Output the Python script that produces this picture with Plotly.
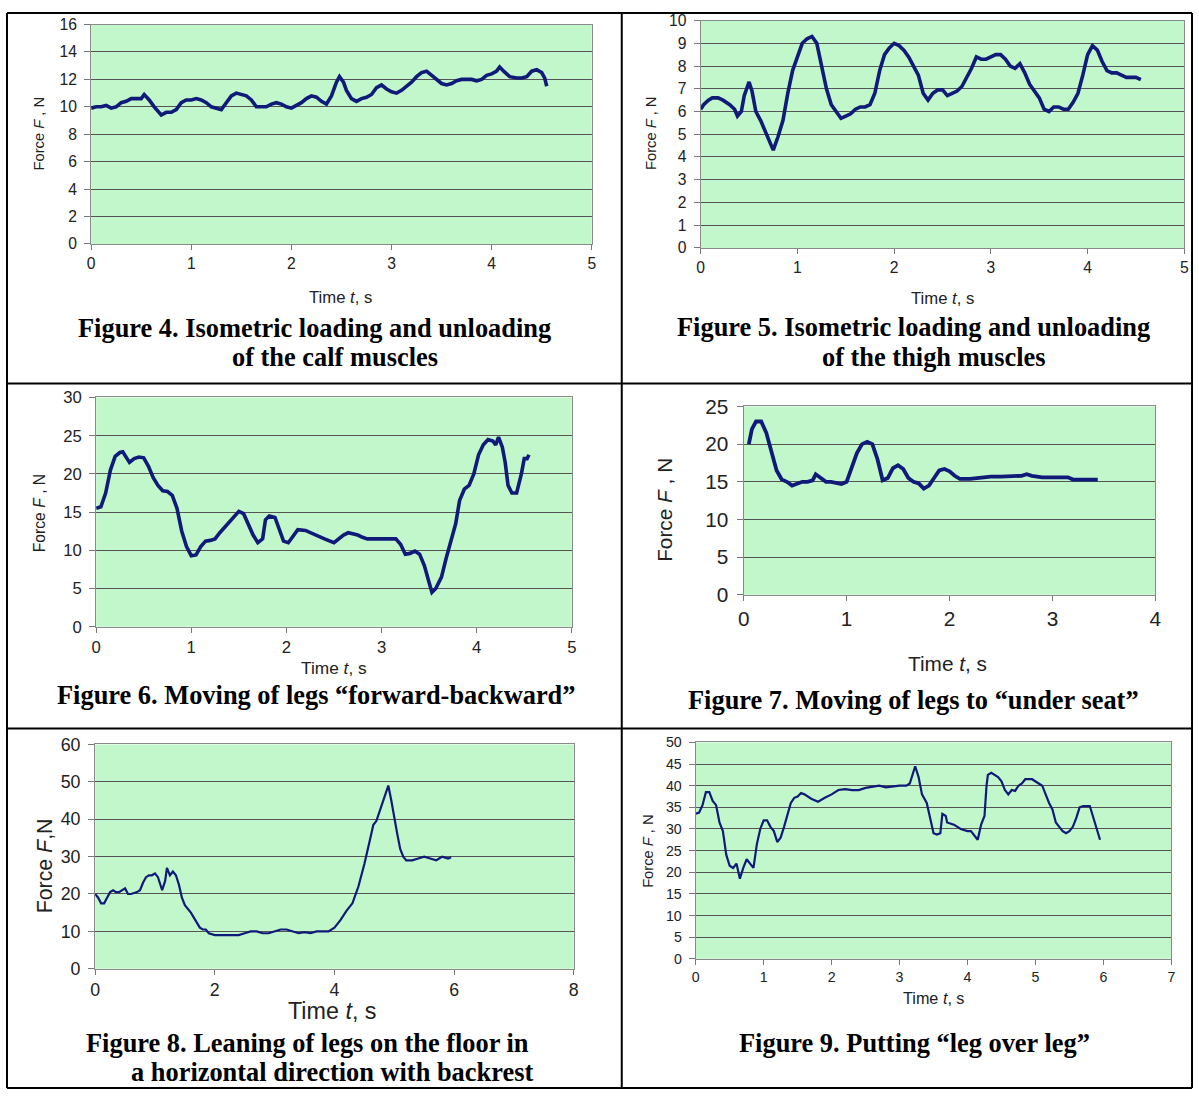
import plotly.graph_objects as go

W, H = 1199, 1100

# --- data (time in s, force in N) ---
t4 = [0, 0.05, 0.1, 0.15, 0.2, 0.25, 0.3, 0.35, 0.4, 0.45, 0.5, 0.53, 0.58, 0.63, 0.7, 0.75, 0.8, 0.85,
      0.9, 0.95, 1.0, 1.05, 1.1, 1.15, 1.2, 1.25, 1.3, 1.35, 1.4, 1.45, 1.5, 1.55, 1.6, 1.65, 1.7, 1.75,
      1.8, 1.85, 1.9, 1.95, 2.0, 2.05, 2.1, 2.15, 2.2, 2.25, 2.3, 2.35, 2.4, 2.45, 2.48, 2.52, 2.55, 2.6,
      2.65, 2.7, 2.75, 2.8, 2.85, 2.9, 2.95, 3.0, 3.05, 3.1, 3.15, 3.2, 3.25, 3.3, 3.35, 3.4, 3.45, 3.5,
      3.55, 3.6, 3.65, 3.7, 3.75, 3.8, 3.85, 3.9, 3.95, 4.0, 4.05, 4.08, 4.12, 4.18, 4.25, 4.3, 4.35, 4.4,
      4.45, 4.5, 4.53, 4.55]
f4 = [9.9, 10.0, 10.0, 10.1, 9.9, 10.0, 10.3, 10.4, 10.6, 10.6, 10.6, 10.9, 10.5, 10.0, 9.4, 9.6, 9.6, 9.8,
      10.3, 10.5, 10.5, 10.6, 10.5, 10.3, 10.0, 9.9, 9.8, 10.3, 10.8, 11.0, 10.9, 10.8, 10.5, 10.0, 10.0, 10.0,
      10.2, 10.3, 10.2, 10.0, 9.9, 10.1, 10.3, 10.6, 10.8, 10.7, 10.4, 10.2, 10.8, 11.8, 12.2, 11.8, 11.2, 10.6,
      10.4, 10.6, 10.7, 10.9, 11.4, 11.6, 11.3, 11.1, 11.0, 11.2, 11.5, 11.8, 12.2, 12.5, 12.6, 12.3, 12.0, 11.7,
      11.6, 11.7, 11.9, 12.0, 12.0, 12.0, 11.9, 12.0, 12.3, 12.4, 12.6, 12.9, 12.6, 12.2, 12.1, 12.1, 12.2, 12.6,
      12.7, 12.5, 12.1, 11.5]

t5 = [0, 0.03, 0.08, 0.12, 0.18, 0.23, 0.3, 0.35, 0.38, 0.42, 0.45, 0.48, 0.5, 0.53, 0.57, 0.62, 0.67, 0.72,
      0.75, 0.8, 0.85, 0.9, 0.95, 1.0, 1.05, 1.1, 1.15, 1.2, 1.25, 1.3, 1.35, 1.4, 1.45, 1.5, 1.55, 1.6, 1.65,
      1.7, 1.75, 1.8, 1.85, 1.9, 1.95, 2.0, 2.05, 2.1, 2.15, 2.2, 2.25, 2.3, 2.35, 2.4, 2.45, 2.5, 2.55, 2.6,
      2.65, 2.7, 2.75, 2.8, 2.85, 2.9, 2.95, 3.0, 3.05, 3.1, 3.15, 3.2, 3.25, 3.3, 3.35, 3.4, 3.45, 3.5, 3.55,
      3.6, 3.65, 3.7, 3.75, 3.8, 3.85, 3.9, 3.95, 4.0, 4.05, 4.1, 4.15, 4.2, 4.25, 4.3, 4.35, 4.4, 4.45, 4.5, 4.55]
f5 = [6.1, 6.3, 6.5, 6.6, 6.6, 6.5, 6.3, 6.1, 5.8, 6.0, 6.7, 7.0, 7.3, 6.9, 6.0, 5.6, 5.1, 4.5,
      4.3, 4.9, 5.6, 6.8, 7.8, 8.4, 9.0, 9.2, 9.3, 9.0, 8.0, 7.0, 6.3, 6.0, 5.7, 5.8, 5.9, 6.1, 6.2,
      6.2, 6.3, 6.8, 7.8, 8.5, 8.8, 9.0, 8.9, 8.7, 8.4, 8.0, 7.6, 6.8, 6.5, 6.8, 6.95, 6.95, 6.7, 6.8,
      6.9, 7.1, 7.5, 7.9, 8.4, 8.3, 8.3, 8.4, 8.5, 8.5, 8.3, 8.0, 7.9, 8.1, 7.7, 7.2, 6.9, 6.6, 6.1,
      6.0, 6.2, 6.2, 6.1, 6.1, 6.4, 6.8, 7.6, 8.5, 8.9, 8.7, 8.2, 7.8, 7.7, 7.7, 7.6, 7.5, 7.5, 7.5, 7.4]

t6 = [0, 0.05, 0.1, 0.15, 0.2, 0.25, 0.28, 0.32, 0.35, 0.4, 0.45, 0.5, 0.55, 0.6, 0.65, 0.7, 0.75, 0.8,
      0.85, 0.9, 0.95, 1.0, 1.05, 1.1, 1.15, 1.2, 1.25, 1.3, 1.35, 1.4, 1.45, 1.5, 1.55, 1.6, 1.65, 1.7,
      1.75, 1.78, 1.82, 1.88, 1.92, 1.97, 2.02, 2.07, 2.12, 2.2, 2.3, 2.4, 2.5, 2.55, 2.6, 2.65, 2.7, 2.75,
      2.8, 2.85, 3.0, 3.15, 3.2, 3.25, 3.3, 3.35, 3.4, 3.45, 3.5, 3.53, 3.57, 3.63, 3.68, 3.72, 3.78, 3.82,
      3.87, 3.92, 3.97, 4.02, 4.07, 4.12, 4.17, 4.2, 4.23, 4.27, 4.3, 4.33, 4.37, 4.42, 4.47, 4.5, 4.53, 4.55]
f6 = [15.5, 15.7, 17.5, 20.5, 22.3, 22.8, 22.9, 22.0, 21.5, 22.0, 22.2, 22.1, 21.0, 19.5, 18.5, 17.8, 17.7, 17.2,
      15.5, 12.5, 10.5, 9.3, 9.4, 10.5, 11.2, 11.3, 11.5, 12.3, 13.0, 13.7, 14.5, 15.1, 14.8, 13.5, 12.0, 11.0,
      11.5, 14.0, 14.5, 14.3, 13.0, 11.2, 11.0, 11.8, 12.7, 12.6, 12.0, 11.5, 11.0, 11.5, 12.0, 12.3, 12.2, 12.0,
      11.7, 11.5, 11.5, 11.5, 10.8, 9.5, 9.6, 9.9, 9.5, 8.0, 5.8, 4.5, 5.0, 6.5, 9.0, 10.8, 13.5, 16.5,
      18.0, 18.5, 20.0, 22.5, 23.8, 24.5, 24.3, 23.8, 24.8, 23.5, 21.5, 18.5, 17.5, 17.5, 20.0, 22.0, 22.0, 22.5]

t7 = [0.05, 0.08, 0.12, 0.17, 0.22, 0.27, 0.32, 0.37, 0.42, 0.47, 0.52, 0.57, 0.62, 0.67, 0.7, 0.75, 0.8,
      0.85, 0.9, 0.95, 1.0, 1.05, 1.1, 1.15, 1.2, 1.25, 1.3, 1.35, 1.4, 1.45, 1.5, 1.55, 1.6, 1.65, 1.7,
      1.75, 1.8, 1.85, 1.9, 1.95, 2.0, 2.05, 2.1, 2.2, 2.3, 2.4, 2.5, 2.6, 2.7, 2.75, 2.8, 2.9, 3.0, 3.15,
      3.2, 3.3, 3.44]
f7 = [20.0, 22.0, 23.0, 23.0, 21.5, 19.0, 16.5, 15.3, 15.0, 14.5, 14.7, 15.0, 15.0, 15.2, 16.0, 15.5, 15.0,
      15.0, 14.8, 14.7, 15.0, 16.8, 18.8, 20.0, 20.3, 20.0, 18.0, 15.2, 15.5, 16.8, 17.2, 16.7, 15.5, 15.0, 14.8,
      14.1, 14.5, 15.5, 16.5, 16.7, 16.4, 15.8, 15.4, 15.4, 15.6, 15.7, 15.7, 15.8, 15.8, 16.0, 15.8, 15.6, 15.6, 15.6,
      15.3, 15.3, 15.3]

t8 = [0, 0.05, 0.1, 0.15, 0.2, 0.25, 0.3, 0.35, 0.4, 0.45, 0.5, 0.55, 0.6, 0.7, 0.75, 0.8, 0.85, 0.9, 0.95,
      1.0, 1.05, 1.1, 1.12, 1.17, 1.2, 1.25, 1.3, 1.35, 1.4, 1.45, 1.5, 1.6, 1.7, 1.75, 1.8, 1.85, 1.9, 2.0,
      2.2, 2.4, 2.5, 2.6, 2.7, 2.8, 2.9, 3.0, 3.1, 3.2, 3.3, 3.4, 3.5, 3.6, 3.7, 3.8, 3.9, 4.0, 4.1, 4.2,
      4.3, 4.4, 4.5, 4.6, 4.65, 4.7, 4.75, 4.8, 4.85, 4.9, 4.95, 5.0, 5.05, 5.1, 5.15, 5.2, 5.3, 5.4, 5.5,
      5.6, 5.7, 5.75, 5.8, 5.9, 5.95]
f8 = [20.0, 19.0, 17.5, 17.5, 19.0, 20.5, 21.0, 20.5, 20.5, 21.0, 21.5, 20.0, 20.0, 20.5, 21.0, 23.0, 24.5, 25.0, 25.0,
      25.5, 24.5, 22.0, 21.0, 23.5, 27.0, 25.0, 26.0, 25.0, 22.5, 19.0, 17.0, 15.0, 12.5, 11.0, 10.5, 10.5, 9.5, 9.0,
      9.0, 9.0, 9.5, 10.0, 10.0, 9.5, 9.5, 10.0, 10.5, 10.5, 10.0, 9.5, 9.8, 9.5, 10.0, 10.0, 10.0, 11.0, 13.0, 15.5,
      17.5, 22.0, 28.0, 35.0, 38.5, 39.5, 42.0, 44.5, 47.0, 49.0, 45.0, 40.0, 36.0, 32.0, 30.0, 29.0, 29.0, 29.5, 30.0,
      29.5, 29.0, 29.5, 30.0, 29.5, 29.8]

t9 = [0, 0.05, 0.1, 0.15, 0.2, 0.25, 0.3, 0.35, 0.4, 0.45, 0.5, 0.55, 0.6, 0.62, 0.65, 0.7, 0.75, 0.8, 0.85,
      0.9, 0.95, 1.0, 1.05, 1.1, 1.15, 1.2, 1.25, 1.3, 1.35, 1.4, 1.45, 1.5, 1.55, 1.6, 1.7, 1.8, 1.9, 2.0,
      2.1, 2.2, 2.3, 2.4, 2.5, 2.6, 2.7, 2.8, 2.9, 3.0, 3.1, 3.15, 3.2, 3.23, 3.28, 3.33, 3.4, 3.45, 3.5,
      3.55, 3.6, 3.63, 3.68, 3.7, 3.8, 3.9, 4.0, 4.05, 4.1, 4.15, 4.2, 4.25, 4.28, 4.3, 4.35, 4.4, 4.45,
      4.5, 4.55, 4.6, 4.65, 4.7, 4.75, 4.8, 4.85, 4.95, 5.0, 5.05, 5.1, 5.15, 5.2, 5.25, 5.3, 5.35, 5.4,
      5.45, 5.5, 5.55, 5.6, 5.65, 5.7, 5.8, 5.85, 5.9, 5.95]
f9 = [33.5, 33.8, 35.5, 38.5, 38.5, 36.5, 35.5, 31.5, 29.5, 24.0, 21.5, 21.0, 22.0, 20.5, 18.5, 21.0, 23.0, 22.0, 21.0,
      26.5, 30.0, 32.0, 32.0, 30.5, 29.5, 27.0, 28.0, 30.5, 33.0, 36.0, 37.2, 37.5, 38.3, 38.0, 37.0, 36.3, 37.2, 38.0,
      39.0, 39.2, 39.0, 39.0, 39.5, 39.8, 40.0, 39.6, 39.8, 40.0, 40.0, 40.5, 43.0, 44.5, 42.0, 38.0, 36.0, 32.5, 29.0,
      28.7, 29.0, 33.5, 33.0, 31.5, 31.0, 30.0, 29.5, 29.5, 28.5, 27.5, 31.0, 33.0, 40.0, 42.5, 43.0, 42.5, 42.0,
      41.0, 39.0, 38.0, 39.0, 38.8, 40.0, 40.5, 41.5, 41.5, 41.0, 40.5, 40.0, 38.0, 36.0, 34.5, 31.5, 30.5, 29.5,
      29.0, 29.5, 30.5, 32.5, 35.0, 35.3, 35.3, 32.5, 30.0, 27.5]

captions = [
    ["Figure 4. Isometric loading and unloading", "of the calf muscles"],
    ["Figure 5. Isometric loading and unloading", "of the thigh muscles"],
    ["Figure 6. Moving of legs \u201cforward-backward\u201d"],
    ["Figure 7. Moving of legs to \u201cunder seat\u201d"],
    ["Figure 8. Leaning of legs on the floor in", "a horizontal direction with backrest"],
    ["Figure 9. Putting \u201cleg over leg\u201d"],
]

y_titles = ["Force <i>F</i> , N", "Force <i>F</i> , N", "Force <i>F</i> , N",
            "Force <i>F</i> , N", "Force <i>F</i>,N", "Force <i>F</i> , N"]

series = [(t4, f4), (t5, f5), (t6, f6), (t7, f7), (t8, f8), (t9, f9)]

# the snapshot comes out slightly shrunk and shifted, so target pixels are mapped back
AX, BX = 4.8, 0.9907
AY, BY = 9.4, 0.982
FS = 1.015


def px(x):
    v = (x - AX) / BX
    return min(max(v, 1), W - 1) / W


def py(y):
    v = (y - AY) / BY
    return 1 - min(max(v, 1), H - 1) / H


def fs(size):
    return round(size * FS, 1)


# panel geometry in pixels: plot box, ranges, font sizes, title/caption positions
panels = [
    dict(box=(90, 591, 22, 242), xr=5, xd=1, yr=16, yd=2, tf=15.5, lw=3.6,
         xt=(340, 296, 16.5), yt=(38, 132, 14.5), cap=[(314, 326), (334, 355)]),
    dict(box=(700, 1184, 18, 246), xr=5, xd=1, yr=10, yd=1, tf=15.5, lw=3.6,
         xt=(942, 297, 16.5), yt=(651, 131, 14.5), cap=[(913, 325), (933, 355)]),
    dict(box=(95, 571, 396, 626), xr=5, xd=1, yr=30, yd=5, tf=16.5, lw=3.6,
         xt=(333, 667, 17), yt=(38, 512, 15.5), cap=[(315, 694)]),
    dict(box=(743, 1155, 405, 594), xr=4, xd=1, yr=25, yd=5, tf=20.5, lw=3.8,
         xt=(947, 663, 20.5), yt=(663, 509, 20.5), cap=[(913, 699)]),
    dict(box=(94, 573, 744, 969), xr=8, xd=2, yr=60, yd=10, tf=17.5, lw=2.2,
         xt=(331, 1011, 23), yt=(44, 866, 21), cap=[(307, 1043), (331, 1073)]),
    dict(box=(695, 1171, 742, 959), xr=7, xd=1, yr=50, yd=5, tf=14, lw=2.2,
         xt=(933, 998, 16), yt=(647, 851, 14.5), cap=[(914, 1043)]),
]

fig = go.Figure()
annotations = []
layout = {}

for i, (p, (tt, ff)) in enumerate(zip(panels, series)):
    n = "" if i == 0 else str(i + 1)
    x0, x1, y0, y1 = p["box"]
    fig.add_trace(go.Scatter(x=tt, y=ff, mode="lines", xaxis="x" + n, yaxis="y" + n,
                             line=dict(color="#101a78", width=p["lw"]), showlegend=False,
                             hoverinfo="skip"))
    tick_font = dict(family="Liberation Sans, Arial", size=fs(p["tf"]), color="#222222")
    layout["xaxis" + n] = dict(domain=[px(x0), px(x1)], anchor="y" + n, range=[0, p["xr"]],
                               dtick=p["xd"], tick0=0, showgrid=False, zeroline=False,
                               showline=True, linecolor="#8a8a8a", linewidth=1.2, mirror=True,
                               ticks="outside", ticklen=5, tickcolor="#777777",
                               tickfont=tick_font, fixedrange=True)
    layout["yaxis" + n] = dict(domain=[py(y1), py(y0)], anchor="x" + n, range=[0, p["yr"]],
                               dtick=p["yd"], tick0=0, showgrid=True, gridcolor="#555555",
                               gridwidth=1.3, zeroline=False, showline=True,
                               linecolor="#8a8a8a", linewidth=1.2, mirror=True,
                               ticks="outside", ticklen=6, tickcolor="#777777",
                               ticklabelstandoff=4, tickfont=tick_font, fixedrange=True)
    fig.add_shape(type="rect", xref="paper", yref="paper", layer="below",
                  x0=px(x0), x1=px(x1), y0=py(y1), y1=py(y0),
                  fillcolor="#c2f7cb", line=dict(width=0))

    xtx, xty, xts = p["xt"]
    annotations.append(dict(x=px(xtx), y=py(xty), xref="paper", yref="paper",
                            xanchor="center", yanchor="middle",
                            text="Time <i>t</i>, s", showarrow=False,
                            font=dict(family="Liberation Sans, Arial", size=fs(xts), color="#222222")))
    ytx, yty, yts = p["yt"]
    annotations.append(dict(x=px(ytx), y=py(yty), xref="paper", yref="paper",
                            xanchor="center", yanchor="middle",
                            text=y_titles[i], showarrow=False, textangle=-90,
                            font=dict(family="Liberation Sans, Arial", size=fs(yts), color="#222222")))
    for (cx, cy), line_text in zip(p["cap"], captions[i]):
        annotations.append(dict(x=px(cx), y=py(cy), xref="paper", yref="paper",
                                xanchor="center", yanchor="middle",
                                text="<b>" + line_text + "</b>", showarrow=False,
                                font=dict(family="Liberation Serif, Times New Roman", size=fs(26),
                                          color="#000000")))

# table frame around the six figures
for (xa, ya, xb, yb) in [(3, 3, 1197, 3), (3, 1098, 1197, 1098), (3, 3, 3, 1098),
                         (1197, 3, 1197, 1098), (621, 3, 621, 1098),
                         (3, 382, 1197, 382), (3, 728, 1197, 728)]:
    fig.add_shape(type="line", xref="paper", yref="paper",
                  x0=px(xa), y0=py(ya), x1=px(xb), y1=py(yb),
                  line=dict(color="#000000", width=2))

fig.update_layout(width=W, height=H, margin=dict(l=0, r=0, t=0, b=0),
                  paper_bgcolor="white", plot_bgcolor="rgba(0,0,0,0)",
                  annotations=annotations, **layout)

fig.write_html("out.html", config={"displayModeBar": False},
               post_script="document.body.style.margin='0';"
                           "document.documentElement.style.overflow='hidden';")
